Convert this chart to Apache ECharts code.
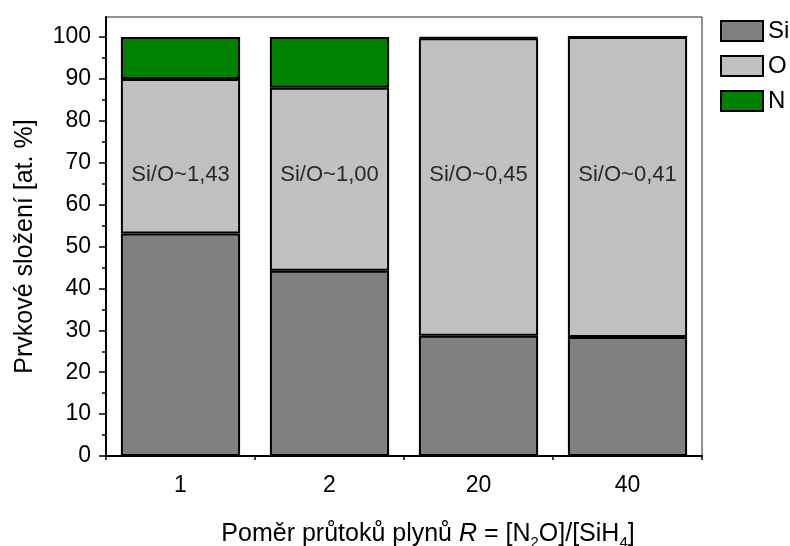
<!DOCTYPE html>
<html>
<head>
<meta charset="utf-8">
<script src="https://cdn.jsdelivr.net/npm/echarts@6/dist/echarts.min.js"></script>
<style>
  html, body { margin: 0; padding: 0; background: #fff; }
  #chart { width: 790px; height: 546px; }
</style>
</head>
<body>
<div id="chart"></div>
<script>
// Gas flow ratio R = [N2O]/[SiH4]
const categories = ['1', '2', '20', '40'];
// Elemental composition, at. %
const siValues = [53.1, 44.2, 28.7, 28.4];
const oValues = [36.9, 43.7, 71.0, 71.6];
const nValues = [10.0, 12.1, 0.3, 0.0];
// Si/O ratio annotations inside the bars
const ratioLabels = ['Si/O~1,43', 'Si/O~1,00', 'Si/O~0,45', 'Si/O~0,41'];
const ratioLabelLevel = 67;
// Y axis ticks
const yMajorTicks = [0, 10, 20, 30, 40, 50, 60, 70, 80, 90, 100];
const yMinorTicks = [5, 15, 25, 35, 45, 55, 65, 75, 85, 95];

const FONT = 'Liberation Sans, Arial, sans-serif';
const chart = echarts.init(document.getElementById('chart'), null, { renderer: 'canvas' });

const barStyle = (color) => ({ color: color, borderColor: '#000', borderWidth: 2 });

chart.setOption({
  animation: false,
  backgroundColor: '#fff',
  textStyle: { fontFamily: FONT },
  grid: {
    left: 106, right: 88, top: 17, bottom: 90,
    outerBoundsMode: 'none',
    containLabel: false,
    show: true, borderColor: '#222', borderWidth: 1, backgroundColor: 'transparent'
  },
  legend: {
    orient: 'vertical',
    left: 720, top: 19, padding: 0,
    itemWidth: 42, itemHeight: 20, itemGap: 11,
    icon: 'rect',
    textStyle: { fontFamily: FONT, fontSize: 24, color: '#000' },
    data: ['Si', 'O', 'N']
  },
  xAxis: [
    {
      type: 'category',
      data: categories,
      boundaryGap: true,
      axisLine: { lineStyle: { color: '#000', width: 2 } },
      axisTick: { alignWithLabel: true, length: 6, lineStyle: { color: '#000', width: 1.5 } },
      axisLabel: { color: '#000', fontSize: 23, margin: 18, fontFamily: FONT },
      name: 'Poměr průtoků plynů {i|R} = [N{sub|2}O]/[SiH{sub|4}]',
      nameLocation: 'middle',
      nameGap: 62,
      nameTextStyle: {
        color: '#000', fontSize: 25, fontFamily: FONT, padding: [0, 0, 0, 48],
        rich: {
          i: { fontStyle: 'italic', fontSize: 25, fontFamily: FONT, color: '#000' },
          sub: { fontSize: 15, fontFamily: FONT, color: '#000', padding: [17, 0, 0, 0] }
        }
      }
    },
    {
      // minor ticks at category boundaries
      type: 'category',
      data: categories,
      position: 'bottom',
      boundaryGap: true,
      axisLine: { show: false },
      axisTick: { show: true, length: 4, lineStyle: { color: '#000', width: 1.5 } },
      axisLabel: { show: false }
    }
  ],
  yAxis: [
    {
      type: 'value',
      min: 0, max: 104.8, interval: 10,
      axisLine: { show: true, lineStyle: { color: '#000', width: 2 } },
      axisTick: { show: true, length: 7, customValues: yMajorTicks, lineStyle: { color: '#000', width: 1.5 } },
      axisLabel: { color: '#000', fontSize: 23, margin: 15, fontFamily: FONT, customValues: yMajorTicks },
      splitLine: { show: false },
      name: 'Prvkové složení [at. %]',
      nameLocation: 'middle',
      nameGap: 68,
      nameTextStyle: { color: '#000', fontSize: 25, fontFamily: FONT, padding: [0, 20, 0, 0] }
    },
    {
      // minor ticks at the half-decades
      type: 'value',
      position: 'left',
      min: 0, max: 104.8,
      axisLine: { show: false },
      axisTick: { show: true, length: 4, customValues: yMinorTicks, lineStyle: { color: '#000', width: 1.5 } },
      axisLabel: { show: false },
      splitLine: { show: false }
    }
  ],
  series: [
    { name: 'Si', type: 'bar', stack: 'total', barWidth: '80%', data: siValues, itemStyle: barStyle('#808080') },
    { name: 'O', type: 'bar', stack: 'total', barWidth: '80%', data: oValues, itemStyle: barStyle('#c0c0c0') },
    { name: 'N', type: 'bar', stack: 'total', barWidth: '80%', data: nValues, itemStyle: barStyle('#008000') },
    {
      name: 'ratio',
      type: 'scatter',
      symbolSize: 0,
      silent: true,
      data: ratioLabels.map(() => ratioLabelLevel),
      label: {
        show: true, position: 'inside',
        formatter: (p) => ratioLabels[p.dataIndex],
        color: '#000', fontSize: 22, fontFamily: FONT
      },
      z: 10
    }
  ]
});
</script>
</body>
</html>
